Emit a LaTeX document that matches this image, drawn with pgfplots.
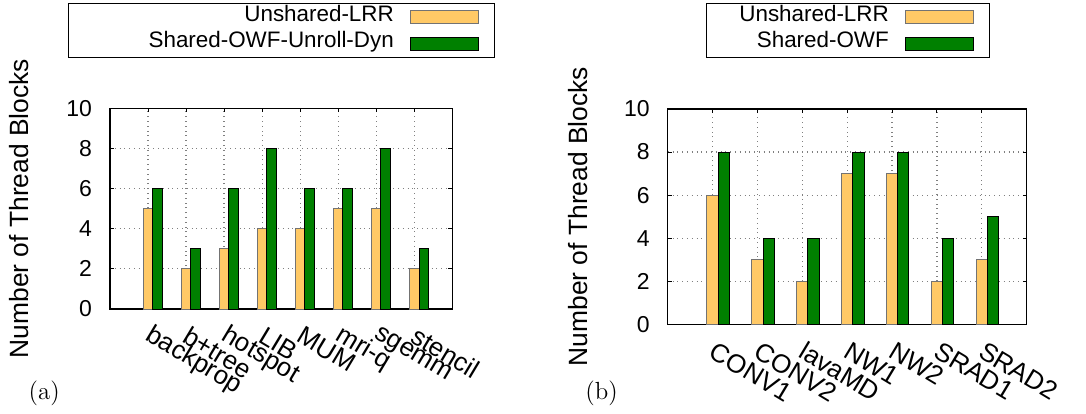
\documentclass[border=0pt]{standalone}
\usepackage{fontspec}
\setsansfont{Liberation Sans}
\usepackage{pgfplots}
\pgfplotsset{compat=1.18}
\definecolor{lrr}{RGB}{255,201,102}
\definecolor{owf}{RGB}{0,128,0}
\newcommand{\tickfont}{\sffamily\fontsize{13}{15}\selectfont}
\newcommand{\labfont}{\sffamily\fontsize{13.2}{15}\selectfont}
\pgfplotsset{
  common/.style={
    scale only axis,
    anchor=south west,
    ymin=0, ymax=10, ytick={0,2,...,10},
    ybar, bar width=0.25,
    axis line style={line width=0.75pt},
    tick pos=both, tick align=inside, major tick length=2pt,
    tick style={line width=0.5pt, black},
    xmajorgrids, ymajorgrids,
    major grid style={gray, dotted, line width=0.6pt},
    /pgf/number format/assume math mode=true,
    yticklabel style={xshift=-5.5pt, font=\sffamily\fontsize{11.5}{14}\selectfont},
    xticklabel style={rotate=-31, anchor=west, inner sep=0pt, yshift=-10.5pt, xshift=6pt, font=\tickfont},
    legend plot pos=right,
    legend cell align=right,
    legend image code/.code={\draw[##1] (0pt,-3.175pt) rectangle (34.2pt,3.175pt);},
  },
  lrrstyle/.style={fill=lrr, draw=black!55, line width=0.5pt, bar shift=0},
  owfstyle/.style={fill=owf, draw=black, line width=0.5pt, bar shift=0.25},
}
\begin{document}
\begin{tikzpicture}[font=\sffamily\fontsize{11.2}{13.4}\selectfont]
\useasboundingbox (0pt,0pt) rectangle (543pt,206.5pt);
\begin{axis}[common,
  at={(55pt,52pt)}, width=171.15pt, height=100.35pt,
  xmin=-1, xmax=8, xtick={0,...,7},
  xticklabels={backprop,b+tree,hotspot,LIB,MUM,mri-q,sgemm,stencil},
  ylabel={\labfont Number of Thread Blocks},
  every axis y label/.style={at={(axis description cs:-0.2653,0.5)}, rotate=90, anchor=center},
  legend style={at={(axis description cs:-0.1218,1.5232)}, anchor=north west,
    draw=black, line width=0.5pt, inner xsep=7.5pt, inner ysep=0pt,
    /tikz/column sep=8pt,
    nodes={inner sep=0pt, text width=155pt, align=right, text height=8.675pt, text depth=4.675pt}},
]
\addplot[lrrstyle] coordinates {(0,5) (1,2) (2,3) (3,4) (4,4) (5,5) (6,5) (7,2)};
\addlegendentry{\mbox{Unshared-LRR}}
\addplot[owfstyle] coordinates {(0,6) (1,3) (2,6) (3,8) (4,6) (5,6) (6,8) (7,3)};
\addlegendentry{\mbox{Shared-OWF-Unroll-Dyn}}
\end{axis}
\begin{axis}[common,
  at={(333.85pt,44.35pt)}, width=179.5pt, height=107.65pt,
  xmin=-1, xmax=7, xtick={0,...,6},
  xticklabels={CONV1,CONV2,lavaMD,NW1,NW2,SRAD1,SRAD2},
  ylabel={\labfont Number of Thread Blocks},
  every axis y label/.style={at={(axis description cs:-0.249,0.5)}, rotate=90, anchor=center},
  legend style={at={(axis description cs:0.1067,1.4909)}, anchor=north west,
    draw=black, line width=0.5pt, inner xsep=7.5pt, inner ysep=0pt,
    /tikz/column sep=8pt,
    nodes={inner sep=0pt, text width=83.65pt, align=right, text height=8.675pt, text depth=4.675pt}},
]
\addplot[lrrstyle] coordinates {(0,6) (1,3) (2,2) (3,7) (4,7) (5,2) (6,3)};
\addlegendentry{\mbox{Unshared-LRR}}
\addplot[owfstyle] coordinates {(0,8) (1,4) (2,4) (3,8) (4,8) (5,4) (6,5)};
\addlegendentry{\mbox{Shared-OWF}}
\end{axis}
\node[font=\rmfamily\fontsize{12.4}{14}\selectfont] at (22.1pt,10pt) {(a)};
\node[font=\rmfamily\fontsize{12.4}{14}\selectfont] at (300.8pt,10pt) {(b)};
\end{tikzpicture}
\end{document}
